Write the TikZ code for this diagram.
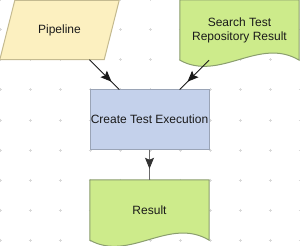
\documentclass[tikz,border=0pt]{standalone}
\usepackage{fontspec}
\setmainfont{Liberation Sans}
\usetikzlibrary{arrows.meta,calc,backgrounds,decorations.markings}
\definecolor{ink}{HTML}{1A1A1A}
\definecolor{griddot}{HTML}{DADADA}
\definecolor{pipefill}{HTML}{FCF0C0}
\definecolor{pipeedge}{HTML}{C4BA90}
\definecolor{execfill}{HTML}{C4D1EB}
\definecolor{execline}{HTML}{9AA4B6}
\definecolor{docfill}{HTML}{CDEB8B}
\definecolor{docline}{HTML}{8A9E6E}
\definecolor{linkgray}{HTML}{6A6A6A}
\definecolor{tipgray}{HTML}{333333}
\newcommand{\twelve}{\fontsize{12}{14}\selectfont}
\tikzset{
 every node/.append style={font=\twelve,text=ink,align=center,inner sep=0pt},
 box/.style={minimum width=119pt,minimum height=59pt},
 docbox/.style={box,minimum height=60pt},
 exec/.style={box,draw=execline,fill=execfill,line width=1pt},
 pipe/.style={draw=pipeedge,fill=pipefill,line width=1pt},
 doc/.style={draw=docline,fill=docfill,line width=1pt},
 dot/.style={draw=griddot,line width=1pt},
 link/.style 2 args={draw=#1,line width=.9pt,postaction={decorate},
   decoration={markings,mark=at position -11pt with {\arrow[#2]{Stealth[length=11pt,width=9pt,inset=2pt]}}}},
}

\begin{document}
\begin{tikzpicture}[x=1pt,y=-1pt]
\useasboundingbox (0,0) rectangle (300,246);

\node[box] (pipeline) at (59.5,30) {Pipeline};
\node[docbox] (search) at (239.5,30) {Search Test\\Repository Result};
\node[exec] (exec) at (149.5,119.5) {Create Test Execution};
\node[docbox] (result) at (149.5,210) {Result};

\begin{scope}[on background layer]
  \foreach \gx in {0,30,...,300}
    \foreach \gy in {0,30,...,240}
      \draw[dot] (\gx-1.5,\gy) -- (\gx+1.5,\gy) (\gx,\gy-1.5) -- (\gx,\gy+1.5);
  \draw[pipe] ($(pipeline.north west)+(15,0)$) -- (pipeline.north east)
    -- ($(pipeline.south east)+(-15,0)$) -- (pipeline.south west) -- cycle;
  \draw[doc] (search.north west) -- (search.north east) -- (search.south east)
    .. controls +(-40,-24) and +(40,22) .. (search.south west) -- cycle;
  \draw[doc] (result.north west) -- (result.north east) -- (result.south east)
    .. controls +(-40,-24) and +(40,22) .. (result.south west) -- cycle;
\end{scope}

\draw[link={ink}{ink}] (pipeline) -- (exec);
\draw[link={ink}{ink}] (search) -- (exec);
\draw[link={linkgray}{tipgray}] (exec) -- (result);

\end{tikzpicture}
\end{document}
